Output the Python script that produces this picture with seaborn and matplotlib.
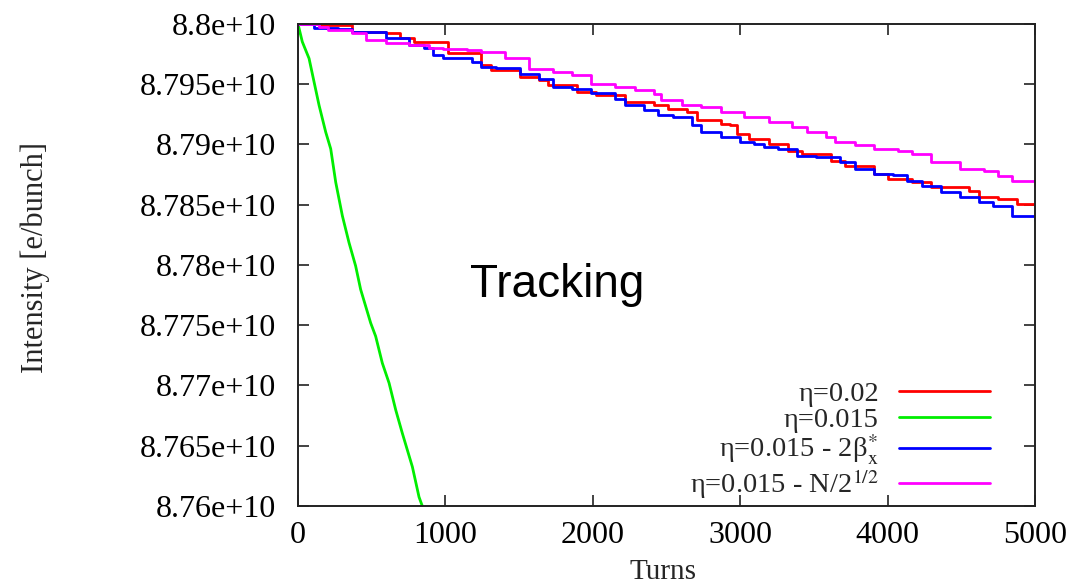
import matplotlib
matplotlib.use("Agg")
import matplotlib.pyplot as plt
import seaborn as sns
import numpy as np
import pandas as pd
from matplotlib.ticker import MultipleLocator, FuncFormatter

# ---- data (intensity in units of 1e10 e/bunch) ----
red_x = [0, 140, 367, 594, 692, 789, 1016, 1244, 1308, 1503, 1633, 1698, 1893, 2023, 2218, 2412, 2510,
         2640, 2705, 2867, 2932, 2981, 3062, 3192, 3321, 3419, 3614, 3711, 3906, 4003, 4166, 4295, 4555,
         4620, 4750, 4880, 5000]
red_y = [8.8, 8.79992, 8.79936, 8.79922, 8.7988, 8.79853, 8.79756, 8.79658, 8.79617, 8.79561, 8.79533,
         8.79492, 8.79436, 8.79408, 8.79353, 8.79325, 8.79297, 8.7927, 8.792, 8.79172, 8.79158, 8.79089,
         8.79047, 8.79006, 8.7895, 8.78922, 8.78867, 8.78825, 8.78756, 8.78714, 8.78686, 8.78644, 8.78617,
         8.78561, 8.78547, 8.78506, 8.78486]

green_x = [0, 29, 75, 109, 143, 188, 222, 256, 301, 346, 391, 425, 493, 527, 572, 618, 663, 708, 776,
           821, 844, 900]
green_y = [8.8, 8.79853, 8.79714, 8.79519, 8.79325, 8.79103, 8.78964, 8.78686, 8.78408, 8.78186, 8.77992,
           8.77797, 8.77519, 8.77408, 8.77186, 8.7702, 8.76797, 8.76603, 8.76325, 8.76075, 8.75997, 8.7585]

blue_x = [0, 107, 269, 367, 594, 756, 854, 919, 984, 1179, 1244, 1341, 1503, 1633, 1731, 1860, 1990, 2153,
          2218, 2347, 2445, 2542, 2672, 2737, 2867, 2997, 3094, 3159, 3256, 3386, 3516, 3679, 3776, 3906,
          4036, 4133, 4231, 4360, 4490, 4620, 4718, 4847, 5000]
blue_y = [8.8, 8.79964, 8.79958, 8.79936, 8.7988, 8.79825, 8.79797, 8.79742, 8.79714, 8.79686, 8.79644,
          8.79631, 8.79589, 8.79547, 8.79478, 8.79458, 8.7943, 8.7938, 8.79325, 8.79283, 8.79242, 8.79228,
          8.79158, 8.79103, 8.79061, 8.7902, 8.79006, 8.78978, 8.78964, 8.78908, 8.78894, 8.78853, 8.78797,
          8.78756, 8.78747, 8.787, 8.78658, 8.78603, 8.78561, 8.78525, 8.78492, 8.78408, 8.78375]

magenta_x = [0, 140, 205, 367, 464, 594, 756, 886, 984, 1146, 1244, 1406, 1568, 1731, 1860, 1990, 2153,
             2283, 2412, 2461, 2607, 2737, 2867, 3029, 3192, 3354, 3451, 3581, 3646, 3776, 3906, 4068, 4166,
             4295, 4490, 4653, 4750, 4847, 5000]
magenta_y = [8.8, 8.79978, 8.7995, 8.79922, 8.79867, 8.79839, 8.79825, 8.79803, 8.79792, 8.79783, 8.79769,
             8.79714, 8.7963, 8.79603, 8.79575, 8.79506, 8.79478, 8.7945, 8.79422, 8.79367, 8.79325, 8.79311,
             8.7927, 8.79228, 8.79186, 8.79144, 8.79103, 8.79061, 8.7902, 8.78992, 8.78964, 8.7895, 8.78922,
             8.78853, 8.78797, 8.78783, 8.78742, 8.787, 8.78658]

labels = ["η=0.02", "η=0.015", r"η=0.015 - 2β$_{\mathrm{x}}^{*}$", r"η=0.015 - N/2$^{1/2}$"]
colors = ["#ff0000", "#00ee00", "#0000ff", "#ff00ff"]
styles = ["steps-post", "default", "steps-post", "steps-post"]
series = [(red_x, red_y), (green_x, green_y), (blue_x, blue_y), (magenta_x, magenta_y)]

x_ticks = [0, 1000, 2000, 3000, 4000, 5000]

# ---- style ----
sns.set_theme(style="ticks")
plt.rcParams["font.family"] = ["Liberation Serif", "DejaVu Serif"]
plt.rcParams["mathtext.fontset"] = "stix"
plt.rcParams["axes.edgecolor"] = "#222222"
plt.rcParams["axes.linewidth"] = 1.4

fig = plt.figure(figsize=(10.87, 5.86), dpi=100)
ax = fig.add_axes([298 / 1087, 1 - 506 / 586, 737 / 1087, 482 / 586])

for (xs, ys), lab, col, ds in zip(series, labels, colors, styles):
    df = pd.DataFrame({"Turns": xs, "I": np.array(ys) * 1e10})
    sns.lineplot(data=df, x="Turns", y="I", ax=ax, color=col, label=lab,
                 drawstyle=ds, linewidth=2.0, sort=False, estimator=None)

ax.set_xlim(0, 5000)
ax.set_ylim(8.76e10, 8.8e10)
ax.set_xticks(x_ticks)
ax.yaxis.set_major_locator(MultipleLocator(0.005e10))
ax.yaxis.set_major_formatter(FuncFormatter(lambda v, p: format(round(v / 1e7) * 1e7, "g")))

ax.tick_params(axis="both", direction="in", length=8, width=1.2, top=True, right=True,
               labelsize=23, colors="#222222", labelcolor="black")
ax.tick_params(axis="y", pad=16)
ax.tick_params(axis="x", pad=11)

ax.set_xlabel("Turns", fontsize=21)
ax.set_ylabel("Intensity [e/bunch]", fontsize=22)
ax.xaxis.label.set_va("center")
ax.yaxis.label.set_va("center")
ax.xaxis.set_label_coords(0.495, -0.137)
ax.yaxis.set_label_coords(-0.357, 0.515)

ax.text(0.233, 0.458, "Tracking", transform=ax.transAxes, fontsize=33,
        family="Liberation Sans", ha="left", va="center", color="black")

leg = ax.legend(loc="lower right", bbox_to_anchor=(0.962, -0.025), frameon=False, markerfirst=False,
                fontsize=20.5, handlelength=3.2, handletextpad=0.7, labelspacing=0.0, borderpad=0.1)

fig.savefig("out.png", dpi=100)
